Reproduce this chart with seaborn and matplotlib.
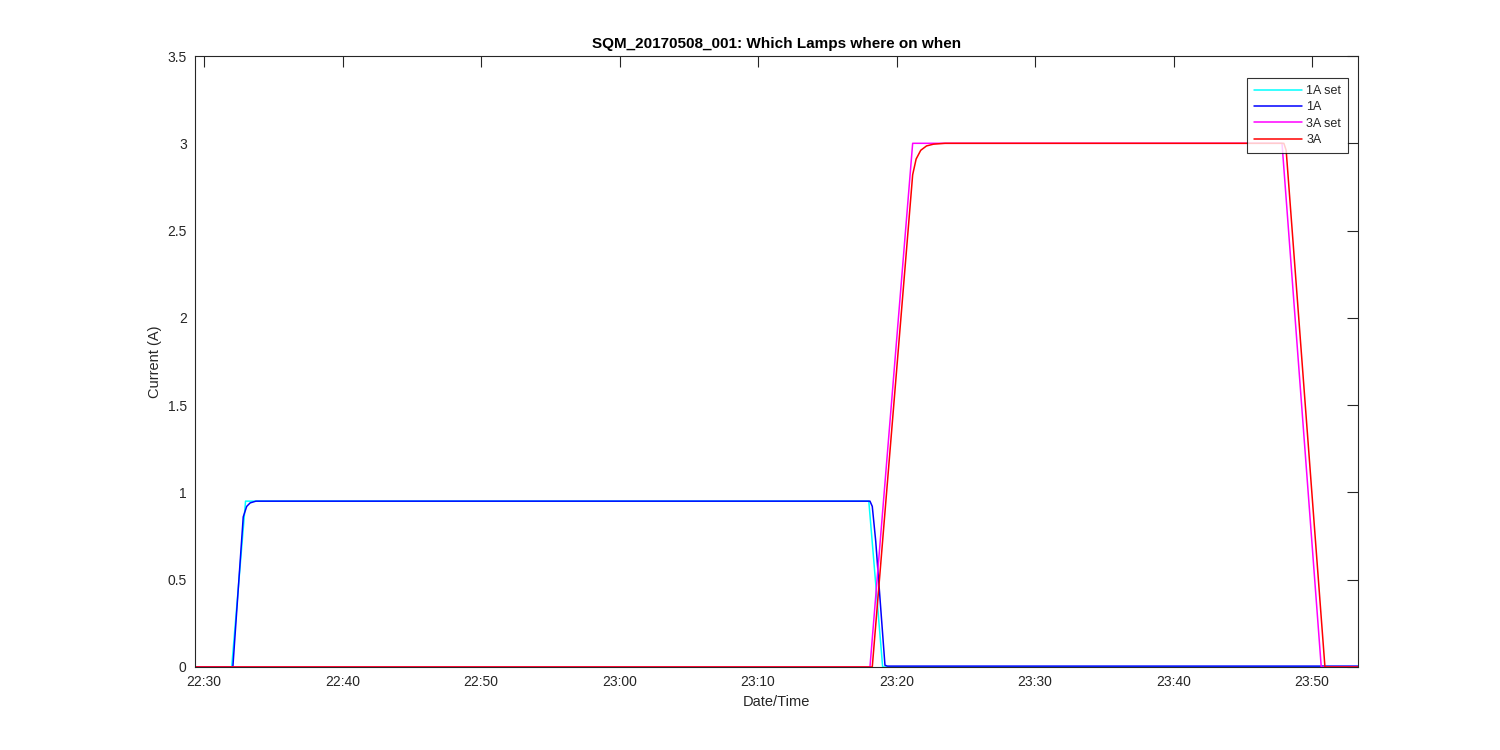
import pandas as pd
import numpy as np
import seaborn as sns
import matplotlib.pyplot as plt
import matplotlib.dates as mdates
from matplotlib.ticker import FormatStrFormatter

# ------------------------------------------------------
# Data
# ------------------------------------------------------
day = "2017-05-08 "

set_1A_times = ["22:29:20", "22:32:00", "22:33:00", "23:18:00", "23:19:00", "23:53:20"]
set_1A_vals = [0, 0, 0.95, 0.95, 0, 0]

act_1A_times = ["22:29:20", "22:32:05", "22:32:50", "22:33:05", "22:33:20", "22:33:45", "22:35:00",
                "23:18:05", "23:18:15", "23:18:30", "23:19:10", "23:19:20", "23:53:20"]
act_1A_vals = [0, 0, 0.86, 0.92, 0.94, 0.95, 0.95,
               0.95, 0.92, 0.72, 0.01, 0.005, 0.005]

set_3A_times = ["22:29:20", "23:18:05", "23:21:10", "23:47:50", "23:50:40", "23:53:20"]
set_3A_vals = [0, 0, 3.0, 3.0, 0, 0]

act_3A_times = ["22:29:20", "23:18:15", "23:21:10", "23:21:25", "23:21:45", "23:22:10", "23:22:40",
                "23:23:30", "23:47:58", "23:48:08", "23:50:56", "23:53:20"]
act_3A_vals = [0, 0, 2.82, 2.91, 2.96, 2.985, 2.995,
               3.0, 3.0, 2.96, 0, 0]

series = [
    ("1A set", set_1A_times, set_1A_vals, "#00FFFF"),
    ("1A", act_1A_times, act_1A_vals, "#0000FF"),
    ("3A set", set_3A_times, set_3A_vals, "#FF00FF"),
    ("3A", act_3A_times, act_3A_vals, "#FF0000"),
]

# ------------------------------------------------------
# Plot
# ------------------------------------------------------
sns.set_style("white")
plt.rcParams['font.family'] = ['Liberation Sans', 'DejaVu Sans']

fig = plt.figure(figsize=(15, 7.5), dpi=100)
ax = fig.add_axes([0.13, 0.1107, 0.7753, 0.8146])

for name, times, vals, color in series:
    df = pd.DataFrame({"t": pd.to_datetime([day + t for t in times]), "v": vals})
    sns.lineplot(data=df, x="t", y="v", ax=ax, color=color, linewidth=1.1, label=name)

ax.set_xlim(pd.Timestamp(day + "22:29:21"), pd.Timestamp(day + "23:53:19"))
ax.set_ylim(0, 3.5)
ax.set_yticks(np.arange(0, 3.51, 0.5))
ax.yaxis.set_major_formatter(FormatStrFormatter('%g'))
ax.xaxis.set_major_locator(mdates.MinuteLocator(byminute=range(0, 60, 10)))
ax.xaxis.set_major_formatter(mdates.DateFormatter('%H:%M'))

ax.tick_params(direction='in', length=8, width=0.8, top=True, right=True,
               labelsize=10, colors='#262626', pad=6)
for sp in ax.spines.values():
    sp.set_color('#262626')
    sp.set_linewidth(0.8)

ax.set_xlabel('Date/Time', fontsize=10.5, color='#262626')
ax.set_ylabel('Current (A)', fontsize=10.5, color='#262626')
ax.set_title('SQM_20170508_001: Which Lamps where on when', fontsize=11,
             fontweight='bold', color='black')

leg = ax.legend(loc='upper right', bbox_to_anchor=(0.9914, 0.964), borderaxespad=0,
                fontsize=9, frameon=True, fancybox=False, edgecolor='black',
                handlelength=3.9, handletextpad=0.3, labelspacing=0.35, borderpad=0.55)
leg.get_frame().set_linewidth(0.8)

plt.savefig("out.png", dpi=100)
